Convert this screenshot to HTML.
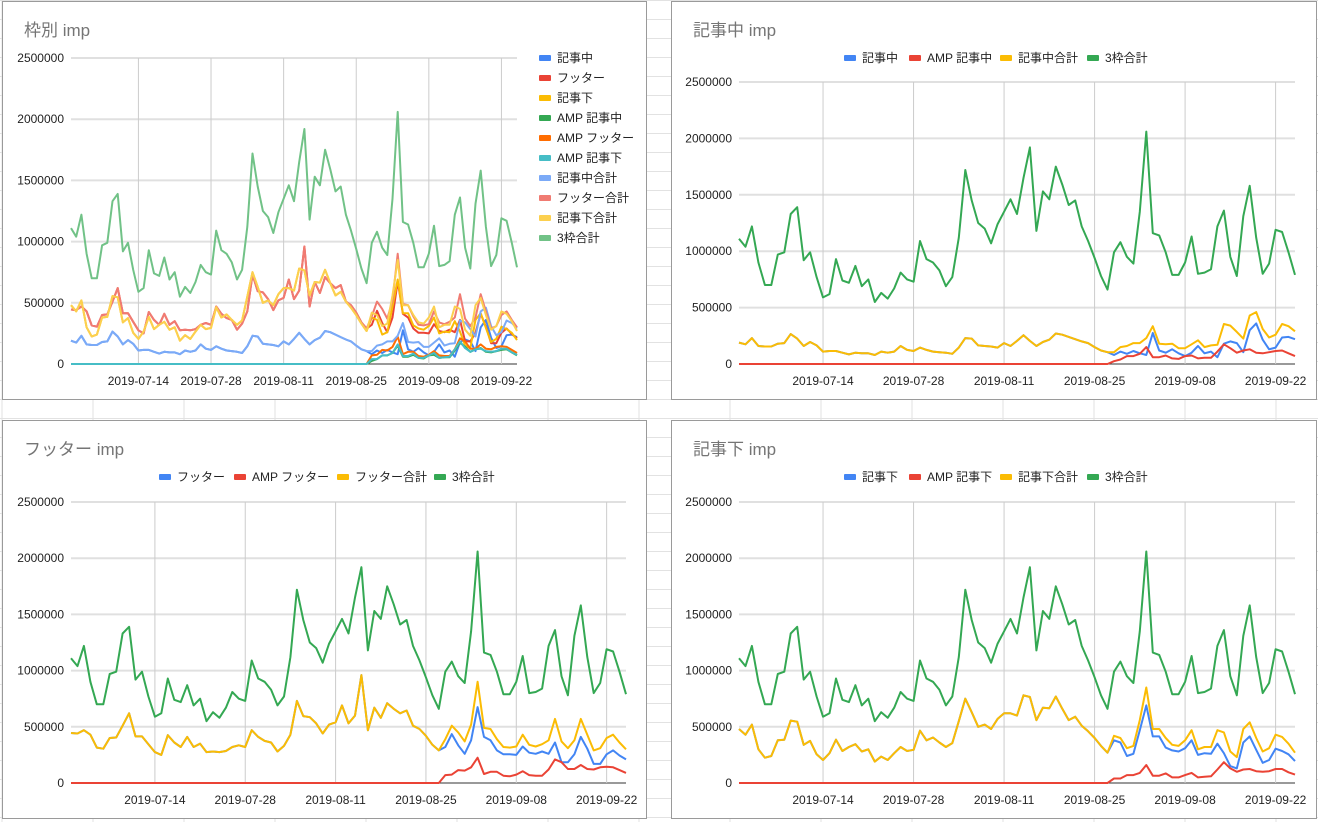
<!DOCTYPE html>
<html><head><meta charset="utf-8">
<style>
html,body{margin:0;padding:0;background:#fff;}
svg{display:block;font-family:"Liberation Sans","Noto Sans CJK JP",sans-serif;}
</style></head>
<body>
<svg id="page" width="1318" height="822" viewBox="0 0 1318 822" xmlns="http://www.w3.org/2000/svg"></svg>
<script>
const tickLabels = ["2019-07-14","2019-07-28","2019-08-11","2019-08-25","2019-09-08","2019-09-22"];
const tickIndex = [13,27,41,55,69,83];
const yTicks = [0,500000,1000000,1500000,2000000,2500000];

const total3 = [1110,1040,1220,900,700,700,970,990,1330,1390,
920,990,770,590,620,930,740,720,870,690,
750,550,630,580,670,810,750,730,1090,930,
900,830,690,770,1120,1720,1450,1250,1200,1070,
1240,1350,1460,1330,1650,1920,1180,1530,1460,1750,
1590,1410,1450,1220,1090,940,780,660,990,1080,
950,890,1350,2060,1160,1140,990,790,790,900,
1130,800,810,840,1220,1360,950,780,1310,1580,
1120,800,890,1190,1170,990,790];

const midTotal = [190,175,230,160,155,155,180,185,265,225,
160,195,165,110,115,115,100,85,100,95,
95,80,110,100,110,160,125,115,145,125,
110,105,100,90,145,230,225,165,160,155,
145,185,160,205,255,205,160,195,215,270,
260,240,220,200,185,150,120,105,105,150,
160,185,185,230,335,180,175,180,140,140,
175,210,150,165,170,355,340,285,225,430,
460,310,235,260,355,335,290];

const ampMid = [0,0,0,0,0,0,0,0,0,0,
0,0,0,0,0,0,0,0,0,0,
0,0,0,0,0,0,0,0,0,0,
0,0,0,0,0,0,0,0,0,0,
0,0,0,0,0,0,0,0,0,0,
0,0,0,0,0,0,0,0,25,40,
70,70,90,150,60,60,75,50,45,70,
75,50,55,55,110,175,140,100,120,130,
100,95,105,115,120,95,70];

const footTotal = [445,440,470,430,315,305,400,405,510,620,
415,415,345,275,250,425,360,320,410,320,
350,275,280,275,285,320,335,320,470,410,
375,360,280,330,430,730,595,585,530,440,
520,540,690,530,600,960,470,670,580,710,
660,620,645,510,480,420,340,290,390,510,
450,370,520,900,490,480,390,320,315,325,
430,340,325,345,380,570,370,310,380,570,
430,290,310,400,430,360,300];

const ampFoot = [0,0,0,0,0,0,0,0,0,0,
0,0,0,0,0,0,0,0,0,0,
0,0,0,0,0,0,0,0,0,0,
0,0,0,0,0,0,0,0,0,0,
0,0,0,0,0,0,0,0,0,0,
0,0,0,0,0,0,0,0,70,75,
115,110,140,225,80,100,100,65,60,75,
105,70,65,65,120,210,185,125,125,160,
125,120,140,145,140,115,90];

const bottomTotal = [480,430,520,300,225,240,380,385,555,545,
340,375,255,205,265,385,285,320,345,280,
300,190,235,205,265,320,285,295,465,380,
405,360,320,355,550,750,630,500,520,480,
570,620,620,600,780,765,560,670,665,770,
660,560,590,510,460,400,330,270,420,400,
310,330,560,850,480,480,400,340,330,380,
470,300,320,320,470,450,280,230,480,540,
400,280,310,430,410,350,270];

const ampBottom = [0,0,0,0,0,0,0,0,0,0,
0,0,0,0,0,0,0,0,0,0,
0,0,0,0,0,0,0,0,0,0,
0,0,0,0,0,0,0,0,0,0,
0,0,0,0,0,0,0,0,0,0,
0,0,0,0,0,0,0,0,40,40,
70,70,90,160,65,65,85,50,50,70,
90,50,55,60,120,185,130,100,120,125,
105,100,105,125,125,95,75];

const NS = "http://www.w3.org/2000/svg";
const svg = document.getElementById('page');
function mk(tag, attrs, parent){
  const e = document.createElementNS(NS, tag);
  for (const k in attrs) e.setAttribute(k, attrs[k]);
  (parent||svg).appendChild(e);
  return e;
}
function diff(a,b){ return a.map((v,i)=>v-b[i]); }
function k(a){ return a.map(v=>v*1000); }

const bg = mk('g',{});


for (let x=2; x<1318; x+=91){ mk('line',{x1:x,y1:0,x2:x,y2:822,stroke:'#e2e2e2','stroke-width':1},bg); }
for (let y=0; y<822; y+=19){ mk('line',{x1:0,y1:y+0.5,x2:1318,y2:y+0.5,stroke:'#e2e2e2','stroke-width':1},bg); }

function panel(cfg){
  const g = mk('g',{});
  
  
  const box = mk('rect',{x:cfg.bx+0.5,y:cfg.by+0.5,width:cfg.bw,height:cfg.bh,fill:'#fff',stroke:'#9a9a9a','stroke-width':1},g);
  
  
  const t = mk('text',{x:cfg.bx+22,y:cfg.by+35,'font-size':17,fill:'#757575'},g);
  t.textContent = cfg.title;
  
  
  const n = total3.length;
  const X = i => cfg.x0 + (cfg.x1-cfg.x0)*i/(n-1);
  const Y = v => cfg.y0 - (cfg.y0-cfg.yTop)*v/2500000;
  yTicks.forEach(v=>{
    const gl = mk('line',{x1:cfg.x0,x2:cfg.x1,y1:Y(v),y2:Y(v),stroke:v===0?'#333':'#e0e0e0','stroke-width':v===0?1:2},g);
    
    
    const lb = mk('text',{x:cfg.x0-7,y:Y(v)+4,'font-size':12,fill:'#222','text-anchor':'end'},g);
    lb.textContent = String(v);
    
    
  });
  tickIndex.forEach((ti,j)=>{
    const vl = mk('line',{x1:X(ti),x2:X(ti),y1:cfg.yTop,y2:cfg.y0,stroke:'#cccccc','stroke-width':1},g);
    
    
    const lb = mk('text',{x:X(ti),y:cfg.y0+21,'font-size':12,fill:'#222','text-anchor':'middle'},g);
    lb.textContent = tickLabels[j];
    
    
  });
  cfg.series.forEach(s=>{
    const d = s.data.map((v,i)=>(i?'L':'M')+X(i).toFixed(1)+' '+Y(v).toFixed(1)).join(' ');
    const p = mk('path',{d:d,fill:'none',stroke:s.color,'stroke-width':2,'stroke-linejoin':'round'},g);
    
    
  });
  cfg.legend.forEach((L,j)=>{
    const s = cfg.series[j];
    const lg = mk('g',{},g);
    
    
    mk('rect',{x:L[0],y:L[1]-3,width:12,height:6,rx:1,fill:s.color},lg);
    const tx = mk('text',{x:L[0]+18,y:L[1]+4,'font-size':12,fill:'#222'},lg);
    tx.textContent = s.label;
  });
}

const midNon = k(diff(midTotal,ampMid)), footNon = k(diff(footTotal,ampFoot)), botNon = k(diff(bottomTotal,ampBottom));

panel({name:'chart-by-slot',title:'枠別 imp',bx:2,by:1,bw:644,bh:398,x0:71,x1:517,y0:364,yTop:58,
 series:[
  {label:'記事中',data:midNon,color:'#4285f4'},
  {label:'フッター',data:footNon,color:'#ea4335'},
  {label:'記事下',data:botNon,color:'#fbbc04'},
  {label:'AMP 記事中',data:k(ampMid),color:'#34a853'},
  {label:'AMP フッター',data:k(ampFoot),color:'#ff6d01'},
  {label:'AMP 記事下',data:k(ampBottom),color:'#46bdc6'},
  {label:'記事中合計',data:k(midTotal),color:'#7baaf7'},
  {label:'フッター合計',data:k(footTotal),color:'#f07b72'},
  {label:'記事下合計',data:k(bottomTotal),color:'#fcd04f'},
  {label:'3枠合計',data:k(total3),color:'#71c287'}],
 legend:[[539,58],[539,78],[539,98],[539,118],[539,138],[539,158],[539,178],[539,198],[539,218],[539,238]]});

panel({name:'chart-mid',title:'記事中 imp',bx:671,by:1,bw:645,bh:398,x0:739,x1:1295,y0:364,yTop:82,
 series:[
  {label:'記事中',data:midNon,color:'#4285f4'},
  {label:'AMP 記事中',data:k(ampMid),color:'#ea4335'},
  {label:'記事中合計',data:k(midTotal),color:'#fbbc04'},
  {label:'3枠合計',data:k(total3),color:'#34a853'}],
 legend:[[844,58],[909,58],[1000,58],[1087,58]]});

panel({name:'chart-footer',title:'フッター imp',bx:2,by:420,bw:644,bh:398,x0:71,x1:626,y0:783,yTop:502,
 series:[
  {label:'フッター',data:footNon,color:'#4285f4'},
  {label:'AMP フッター',data:k(ampFoot),color:'#ea4335'},
  {label:'フッター合計',data:k(footTotal),color:'#fbbc04'},
  {label:'3枠合計',data:k(total3),color:'#34a853'}],
 legend:[[159,477],[234,477],[337,477],[434,477]]});

panel({name:'chart-bottom',title:'記事下 imp',bx:671,by:420,bw:645,bh:398,x0:739,x1:1295,y0:783,yTop:502,
 series:[
  {label:'記事下',data:botNon,color:'#4285f4'},
  {label:'AMP 記事下',data:k(ampBottom),color:'#ea4335'},
  {label:'記事下合計',data:k(bottomTotal),color:'#fbbc04'},
  {label:'3枠合計',data:k(total3),color:'#34a853'}],
 legend:[[844,477],[909,477],[1000,477],[1087,477]]});
</script>
</body></html>
